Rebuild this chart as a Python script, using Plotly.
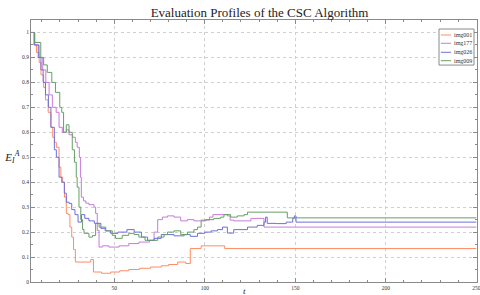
import plotly.graph_objects as go

series_names = ["img001", "img177", "img026", "img009"]
series_colors = ["#FF8C64", "#C87ADC", "#6E6EDC", "#64A064"]

x_img001 = [4, 5.5, 7, 8.5, 9.5, 11, 12, 13.5, 15, 16, 17, 18, 19.5, 20.5, 21.5, 22.5, 23.5, 24.5,
            25.5, 26.5, 27.5, 28.5, 37, 38.5, 43, 48, 53, 58, 64, 70, 76, 80, 85, 89.5, 92, 98, 111, 250]
y_img001 = [1.0, 0.95, 0.92, 0.88, 0.83, 0.78, 0.73, 0.68, 0.62, 0.58, 0.56, 0.54, 0.46, 0.42, 0.40,
            0.34, 0.275, 0.27, 0.22, 0.18, 0.13, 0.08, 0.09, 0.04, 0.035, 0.04, 0.045, 0.05, 0.055,
            0.06, 0.065, 0.07, 0.08, 0.074, 0.134, 0.145, 0.134, 0.134]

x_img177 = [4, 6, 8.5, 10.5, 12.2, 14, 15.8, 17.9, 19.5, 21.3, 23.5, 25, 27, 28.5, 29.5, 30.7, 31.3,
            31.8, 33, 34.3, 36, 38.8, 39.7, 40.6, 41.6, 43.4, 47, 52.7, 58, 63.6, 69.5, 72, 74, 76.6,
            79.4, 83, 86.7, 90.4, 94, 97.8, 102.6, 104.5, 112.5, 114, 116, 125.5, 132.7, 250]
y_img177 = [1.0, 0.95, 0.9, 0.85, 0.8, 0.75, 0.7, 0.68, 0.62, 0.6, 0.61, 0.59, 0.58, 0.56, 0.54, 0.5,
            0.42, 0.34, 0.325, 0.316, 0.31, 0.30, 0.275, 0.207, 0.14, 0.145, 0.14, 0.145, 0.154, 0.16,
            0.167, 0.2, 0.25, 0.26, 0.265, 0.26, 0.245, 0.25, 0.245, 0.248, 0.26, 0.27, 0.265, 0.248,
            0.245, 0.255, 0.22, 0.22]

x_img026 = [4, 6, 8, 9.5, 10.7, 12, 13.6, 15, 16.9, 18, 19.5, 21, 22.4, 23.5, 25, 26.5, 28.3, 30,
            31.9, 33.7, 36, 39, 42.6, 45, 48, 52, 57, 61, 65, 68.4, 72, 76, 79.4, 83, 88.6, 92, 96,
            100, 103.5, 107, 109.8, 112.5, 116, 123.6, 129, 132.7, 133.6, 134.5, 139.5, 145, 148.6,
            149.5, 150.4, 250]
y_img026 = [1.0, 0.95, 0.9, 0.85, 0.8, 0.75, 0.7, 0.62, 0.53, 0.5, 0.42, 0.4, 0.356, 0.32, 0.315,
            0.29, 0.27, 0.24, 0.27, 0.255, 0.245, 0.235, 0.215, 0.205, 0.195, 0.2, 0.21, 0.2, 0.18,
            0.167, 0.175, 0.19, 0.19, 0.185, 0.19, 0.183, 0.195, 0.2, 0.205, 0.21, 0.22, 0.196, 0.21,
            0.22, 0.227, 0.24, 0.26, 0.235, 0.234, 0.24, 0.255, 0.265, 0.24, 0.24]

x_img009 = [4, 6, 9.4, 11, 13, 15.5, 17.5, 19.9, 21, 22, 23.5, 25, 26.8, 28, 29, 29.5, 30.5, 31.5,
            32.5, 33.3, 36, 38, 39.7, 41.6, 45.3, 48.9, 50.7, 54.4, 58, 61, 63.6, 67, 70.2, 74, 77.5,
            79.4, 83, 86.7, 90.4, 94, 96, 98, 100.5, 105, 108.8, 110.6, 114.3, 118, 121.7, 123.6,
            145.6, 250]
y_img009 = [1.0, 0.96, 0.9, 0.87, 0.84, 0.8, 0.76, 0.7, 0.68, 0.6, 0.63, 0.6, 0.53, 0.48, 0.42,
            0.38, 0.3, 0.25, 0.21, 0.195, 0.18, 0.186, 0.235, 0.22, 0.205, 0.187, 0.175, 0.187,
            0.195, 0.19, 0.18, 0.167, 0.167, 0.18, 0.19, 0.2, 0.205, 0.19, 0.2, 0.21, 0.22, 0.245,
            0.25, 0.255, 0.26, 0.27, 0.26, 0.265, 0.27, 0.28, 0.257, 0.257]

xs = [x_img001, x_img177, x_img026, x_img009]
ys = [y_img001, y_img177, y_img026, y_img009]

title_text = "Evaluation Profiles of the CSC Algorithm"
x_label = "<i>t</i>"
y_label = "<i>E</i><sub><i>I</i></sub><sup><i>A</i></sup>"

serif = "Liberation Serif, DejaVu Serif, serif"
frame = "#8a8a8a"

fig = go.Figure()
for name, color, x, y in zip(series_names, series_colors, xs, ys):
    fig.add_trace(go.Scatter(x=x, y=y, name=name, mode="lines", showlegend=False,
                             line=dict(color=color, width=1, shape="hv")))

axis_common = dict(
    showline=True, linecolor=frame, linewidth=1, mirror="ticks",
    ticks="inside", ticklen=4, tickcolor=frame, tickwidth=1,
    showgrid=True, gridcolor="#d0d0d0", griddash="dot", gridwidth=1,
    zeroline=False, tickfont=dict(family=serif, size=5.5, color="#333"),
    automargin=False,
)
fig.update_xaxes(range=[4, 250.4], dtick=50, tick0=0, ticklabeloverflow="allow",
                 minor=dict(dtick=10, ticks="inside", ticklen=2, tickcolor=frame, showgrid=False),
                 **axis_common)
fig.update_yaxes(range=[0, 1.05], dtick=0.1, tick0=0,
                 minor=dict(dtick=0.05, ticks="inside", ticklen=2, tickcolor=frame, showgrid=False),
                 **axis_common)

# legend box drawn in paper coordinates, entries taken from the series lists
leg_x0, leg_x1, leg_y0, leg_y1 = 0.9148, 0.9933, 0.828, 0.9656
entry_ys = [0.9427, 0.9111, 0.8767, 0.8447]
shapes = [dict(type="rect", xref="paper", yref="paper", x0=leg_x0, x1=leg_x1, y0=leg_y0, y1=leg_y1,
               line=dict(color=frame, width=1), fillcolor="white", layer="above")]
annotations = []
for name, color, ey in zip(series_names, series_colors, entry_ys):
    shapes.append(dict(type="line", xref="paper", yref="paper", x0=0.919, x1=0.9417, y0=ey, y1=ey,
                       line=dict(color=color, width=1), layer="above"))
    annotations.append(dict(text=name, xref="paper", yref="paper", x=0.944, y=ey, xanchor="left",
                            yanchor="middle", showarrow=False, width=22, align="left",
                            font=dict(family=serif, size=6, color="#333")))

annotations += [
    dict(text=x_label, x=122, y=-0.034, xref="x", yref="paper", showarrow=False,
         yanchor="middle", font=dict(family=serif, size=9, color="#222")),
    dict(text=y_label, x=-0.043, y=0.5, xref="paper", yref="y", showarrow=False, width=18,
         align="center", xanchor="center", yanchor="middle",
         font=dict(family=serif, size=11, color="#222")),
]

fig.update_layout(
    width=480, height=295, autosize=False,
    margin=dict(l=31, r=3, t=20, b=13),
    paper_bgcolor="white", plot_bgcolor="white",
    title=dict(text=title_text, x=259.5 / 480, xanchor="center", xref="container",
               y=1 - 12 / 295, yanchor="middle", yref="container",
               font=dict(family=serif, size=13, color="#222")),
    showlegend=False,
    hovermode=False,
    shapes=shapes,
    annotations=annotations,
)

fig.write_html("out.html", config={"displayModeBar": False, "responsive": False},
               post_script="document.body.style.margin='0px';")
